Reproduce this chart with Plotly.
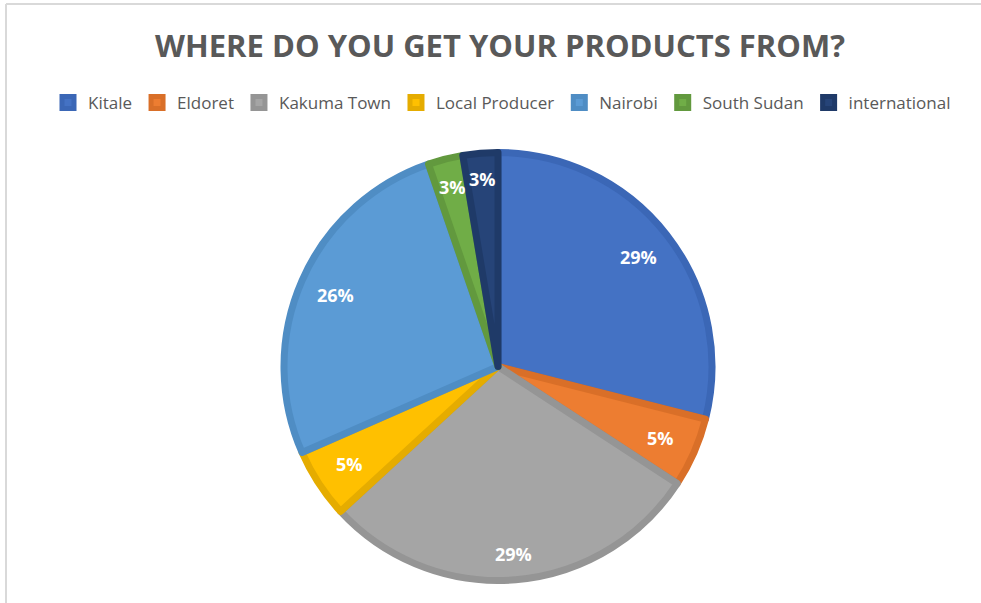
import math
import plotly.graph_objects as go

categories = ["Kitale", "Eldoret", "Kakuma Town", "Local Producer", "Nairobi", "South Sudan", "international"]
counts = [11, 2, 11, 2, 10, 1, 1]
fill_colors = ["#4472C4", "#ED7D31", "#A5A5A5", "#FFC000", "#5B9BD5", "#70AD47", "#264478"]
edge_colors = ["#3B67B6", "#D96F28", "#959595", "#E5AC00", "#4F8DC4", "#62993E", "#1F3A68"]
title_text = "WHERE DO YOU GET YOUR PRODUCTS FROM?"

W, H = 981, 603
# pie box in pixels
PX0, PX1, PY0, PY1 = 284, 712, 152, 581
CX, CY = (PX0 + PX1) / 2, (PY0 + PY1) / 2
R = min(PX1 - PX0, PY1 - PY0) / 2

fig = go.Figure(go.Pie(
    labels=categories,
    values=counts,
    sort=False,
    direction="clockwise",
    rotation=0,
    marker=dict(colors=fill_colors, line=dict(color=edge_colors, width=7)),
    textinfo="none",
    domain=dict(x=[PX0 / W, PX1 / W], y=[1 - PY1 / H, 1 - PY0 / H]),
    hoverinfo="label+percent",
))

# data labels placed Excel-style (best fit near the rim), derived from the values
total = sum(counts)
annotations = []
cum = 0
half_w, half_h = 20, 9
for v in counts:
    mid = (cum + v / 2) / total * 2 * math.pi
    cum += v
    s, c = math.sin(mid), math.cos(mid)
    r = 0.93 * R - (half_w * abs(s) + half_h * abs(c))
    px = CX + r * s
    py = CY - r * c
    annotations.append(dict(
        x=px / W, y=1 - py / H, xref="paper", yref="paper",
        text=f"{round(100 * v / total)}%", showarrow=False,
        xanchor="center", yanchor="middle",
        font=dict(family="Open Sans", size=18, color="white", weight="bold"),
    ))

fig.update_layout(
    width=W, height=H,
    margin=dict(l=0, r=0, t=0, b=0),
    paper_bgcolor="white",
    plot_bgcolor="white",
    title=dict(
        text=title_text,
        x=500 / W, xanchor="center",
        y=1 - 46 / H, yanchor="middle",
        font=dict(family="Open Sans", size=31, color="#595959", weight="bold"),
    ),
    legend=dict(
        orientation="h",
        x=502 / W, xanchor="center",
        y=1 - 103 / H, yanchor="middle",
        font=dict(family="Open Sans", size=17, color="#595959"),
        itemwidth=30,
        traceorder="normal",
    ),
    annotations=annotations,
    shapes=[
        dict(type="line", xref="paper", yref="paper", x0=6 / W, x1=6 / W, y0=0, y1=1 - 4 / H,
             line=dict(color="#D9D9D9", width=2)),
        dict(type="line", xref="paper", yref="paper", x0=6 / W, x1=1, y0=1 - 4 / H, y1=1 - 4 / H,
             line=dict(color="#D9D9D9", width=2)),
    ],
)

fig.write_html("out.html")
